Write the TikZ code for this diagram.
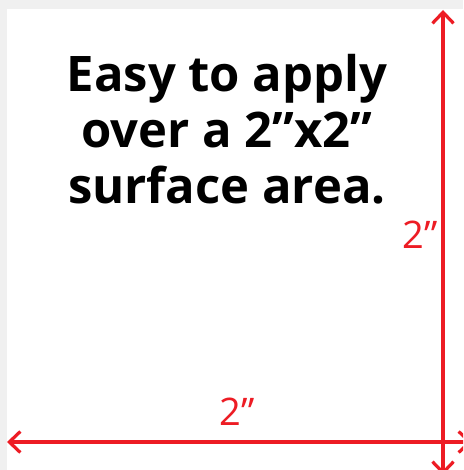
\documentclass[tikz,border=0pt]{standalone}
\usepackage{fontspec}
\setmainfont{Open Sans}
\usepackage{tikz}
\usetikzlibrary{arrows.meta,positioning}
\definecolor{dimred}{RGB}{237,28,36}

\begin{document}
\begin{tikzpicture}[
    x=1pt, y=-1pt,
    dimline/.style={{Straight Barb[length=11pt,width=21pt]}-{Straight Barb[length=11pt,width=21pt]}, line width=3.2pt, draw=dimred},
    dimlabel/.style={text=dimred, font=\fontsize{38}{40}\selectfont, inner sep=0pt},
    claimtext/.style={align=center, font=\bfseries\fontsize{49}{56}\selectfont, inner sep=0pt}
  ]
    \useasboundingbox (0,0) rectangle (463,470);
    \clip (0,0) rectangle (463,470);
    % panel and shadow
    \fill[gray!12] (0,0) rectangle (463,470);
    \fill[white] (7,9) rectangle (470,475);
    \coordinate (vtop) at (443,10);
    \coordinate (vbot) at (443,475);
    \coordinate (hleft) at (7,442);
    \coordinate (hright) at (472,442);
    \draw[dimline] (vtop) -- (vbot);
    \draw[dimline] (hleft) -- (hright);
    \node[claimtext, anchor=north] (claim) at (227,54) {Easy to apply\\ over a 2”x2”\\ surface area.};
    \node[dimlabel, anchor=base] (height) at (420,248) {2”};
    \node[dimlabel, anchor=base] (width) at (237,425) {2”};
  \end{tikzpicture}
\end{document}
